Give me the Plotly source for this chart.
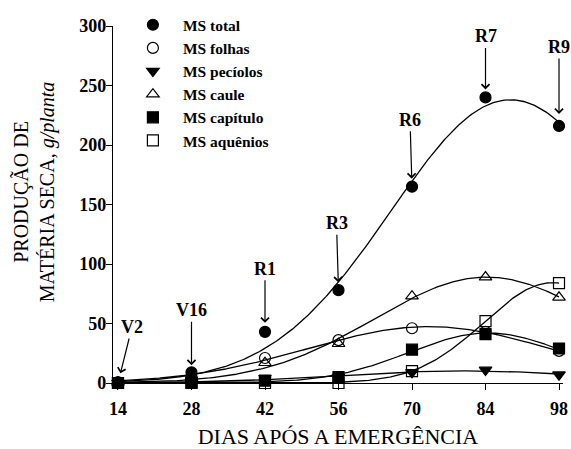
import numpy as np
import plotly.graph_objects as go

dias = [14, 28, 42, 56, 70, 84, 98]
ms_total = [0.5, 9, 43, 78, 165, 240, 216]
ms_folhas = [0.5, 5, 21, 36, 46, 43, 27]
ms_peciolos = [0, 1, 4, 5, 9, 11, 7]
ms_caule = [0.5, 4, 17, 33, 73, 89, 72]
ms_capitulo = [0, 0.5, 2, 5, 28, 41, 29]
ms_aquenios = [0, 0, 0, 0, 10, 52, 84]

estadios = ["V2", "V16", "R1", "R3", "R6", "R7", "R9"]
x_ticks = [14, 28, 42, 56, 70, 84, 98]
y_ticks = [0, 50, 100, 150, 200, 250, 300]

FONT = "Liberation Serif"
xs = np.linspace(14, 98, 300)
X = np.array(dias, dtype=float)


def gauss_fit(y):
    """Least-squares peak (Gaussian) fit: a*exp(-0.5*((x-x0)/b)^2)."""
    y = np.array(y, dtype=float)
    x0s = np.arange(40, 130, 0.25)
    bs = np.arange(4, 60, 0.2)
    G = np.exp(-0.5 * ((X[None, None, :] - x0s[:, None, None]) / bs[None, :, None]) ** 2)
    a = (G @ y) / (G ** 2).sum(axis=2)
    err = (((a[..., None] * G) - y) ** 2).sum(axis=2)
    i, j = np.unravel_index(np.argmin(err), err.shape)
    return a[i, j] * np.exp(-0.5 * ((xs - x0s[i]) / bs[j]) ** 2)


series = [
    ("MS total", ms_total, "circle"),
    ("MS folhas", ms_folhas, "circle-open"),
    ("MS pecíolos", ms_peciolos, "triangle-down"),
    ("MS caule", ms_caule, "triangle-up-open"),
    ("MS capítulo", ms_capitulo, "square"),
    ("MS aquênios", ms_aquenios, "square-open"),
]

fig = go.Figure()
for name, vals, sym in series:
    fig.add_trace(go.Scatter(x=xs, y=gauss_fit(vals), mode="lines",
                             line=dict(color="black", width=1.3),
                             showlegend=False, hoverinfo="skip", cliponaxis=False))
for name, vals, sym in series:
    fig.add_trace(go.Scatter(x=dias, y=vals, mode="markers", name=name,
                             marker=dict(symbol=sym, size=11, color="black",
                                         line=dict(color="black", width=1.2)),
                             cliponaxis=False))

# stage arrows: (ax, ay, standoff) in pixels
arrow_cfg = [(14, -56, 10), (0, -62, 7), (0, -63, 9), (-2, -67, 8),
             (-2, -67, 8), (0, -61, 8), (0, -79, 12)]
for lab, xv, yv, (ax, ay, so) in zip(estadios, dias, ms_total, arrow_cfg):
    yy = 0 if lab == "V2" else yv
    fig.add_annotation(x=xv, y=yy, text=lab, showarrow=True, ax=ax, ay=ay,
                       arrowhead=4, arrowsize=1.3, arrowwidth=1.2, arrowcolor="black",
                       standoff=so,
                       font=dict(family=FONT, size=18, color="black", weight="bold"))

# y-axis title (two centred lines, rotated)
fig.add_annotation(text="PRODUÇÃO DE<br>MATÉRIA SECA, <i>g/planta</i>",
                   xref="paper", yref="paper", x=-0.175, y=0.535,
                   xanchor="center", yanchor="middle", textangle=-90,
                   showarrow=False, align="center",
                   font=dict(family=FONT, size=20, color="black"))

fig.update_layout(
    width=571, height=449,
    margin=dict(l=113, r=8, t=24, b=66),
    paper_bgcolor="white", plot_bgcolor="white",
    font=dict(family=FONT, color="black"),
    legend=dict(x=0.022, y=1.05, xanchor="left", yanchor="top", itemwidth=50,
                bgcolor="rgba(0,0,0,0)",
                font=dict(family=FONT, size=15.5, color="black", weight="bold")),
    xaxis=dict(range=[13.05, 98.76], tickvals=x_ticks, showgrid=False, zeroline=False,
               showline=True, linecolor="black", linewidth=1.2, automargin=False,
               ticks="outside", ticklen=6, tickcolor="black", tickwidth=1.2,
               ticklabelstandoff=3,
               tickfont=dict(family=FONT, size=18, color="black", weight="bold"),
               title=dict(text="DIAS APÓS A EMERGÊNCIA",
                          font=dict(family=FONT, size=22, color="black"), standoff=11)),
    yaxis=dict(range=[0, 300], tickvals=y_ticks, showgrid=False, zeroline=False,
               showline=True, linecolor="black", linewidth=1.2, automargin=False,
               ticks="outside", ticklen=6, tickcolor="black", tickwidth=1.2,
               ticklabelstandoff=-4,
               tickfont=dict(family=FONT, size=18, color="black", weight="bold")),
)

fig.write_html("out.html", config={"displayModeBar": False},
               post_script="document.body.style.margin='0';document.body.style.overflow='hidden';")
